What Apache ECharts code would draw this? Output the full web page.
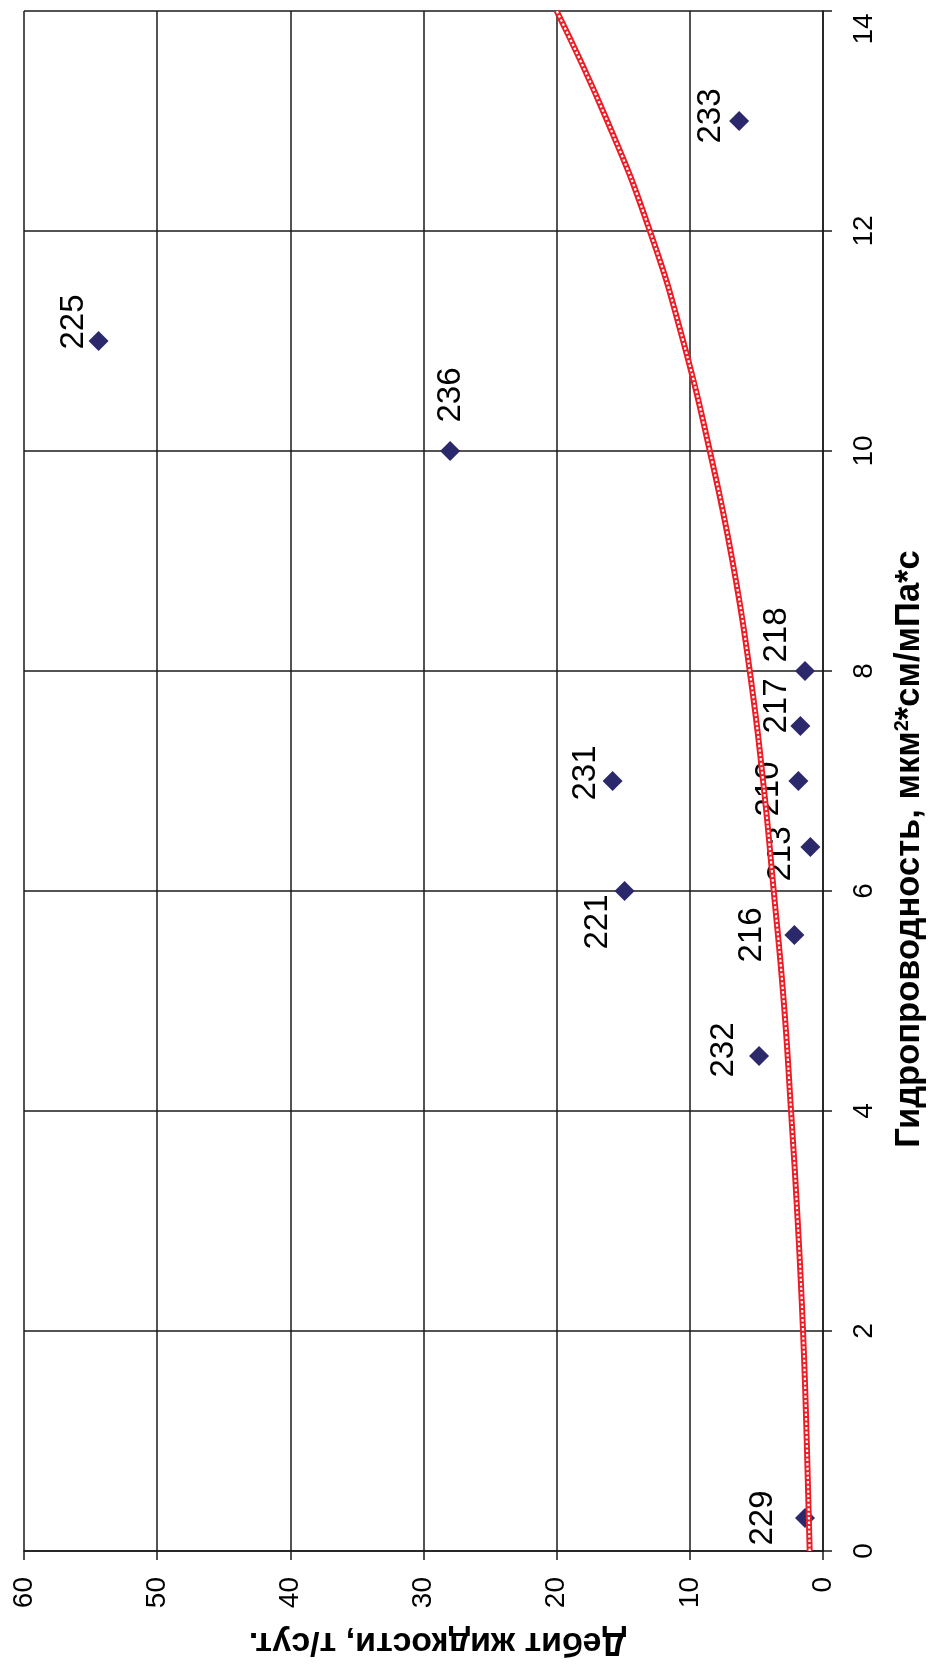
<!DOCTYPE html>
<html>
<head>
<meta charset="utf-8">
<script src="https://cdn.jsdelivr.net/npm/echarts@6/dist/echarts.min.js"></script>
<style>
  html, body { margin: 0; padding: 0; background: #ffffff; }
  #chart { width: 930px; height: 1664px; }
</style>
</head>
<body>
<div id="chart"></div>
<script>
// Wells: hydraulic conductivity vs. liquid flow rate
const wells  = ['229', '232', '216', '221', '213', '210', '231', '217', '218', '236', '225', '233'];
const hydro  = [0.3, 4.5, 5.6, 6.0, 6.4, 7.0, 7.0, 7.5, 8.0, 10.0, 11.0, 13.0];
const debit  = [1.35, 4.8, 2.15, 14.9, 0.95, 1.85, 15.8, 1.7, 1.35, 28.0, 54.4, 6.3];

// Trend curve read at whole units of hydraulic conductivity
const trendHydro = [0, 1, 2, 3, 4, 5, 6, 7, 8, 9, 10, 11, 12, 13, 14];
const trendDebit = [1.0, 1.22, 1.5, 1.9, 2.4, 2.95, 3.7, 4.5, 5.5, 6.8, 8.5, 10.5, 13.0, 16.2, 20.0];

// Axis ticks
const debitTicks = [0, 10, 20, 30, 40, 50, 60];
const hydroTicks = [0, 2, 4, 6, 8, 10, 12, 14];

const FONT = "'Liberation Sans', Arial, sans-serif";
const INK = '#1a1a1a';

// Label nudges in the label's own (rotated) frame: [along text, away from text base]
const labelNudge = {
  '232': [6, 7],
  '221': [-31, 16],
  '213': [-7, 13],
  '210': [-8, 13],
  '231': [8, 16],
  '217': [20, 19],
  '218': [36, 14],
  '236': [56, 43],
  '225': [19, 18],
  '233': [5, 14]
};

const chart = echarts.init(document.getElementById('chart'), null, { renderer: 'canvas' });

const pointData = wells.map((w, i) => {
  const item = { value: [debit[i], hydro[i]] };
  if (labelNudge[w]) item.label = { offset: labelNudge[w] };
  return item;
});

const option = {
  backgroundColor: '#ffffff',
  animation: false,
  grid: { left: 24, right: 107, top: 11, bottom: 113, containLabel: false, outerBoundsMode: 'none' },
  xAxis: {
    type: 'value',
    inverse: true,
    position: 'bottom',
    min: debitTicks[0],
    max: debitTicks[debitTicks.length - 1],
    interval: debitTicks[1] - debitTicks[0],
    axisLine: { show: true, onZero: false, lineStyle: { color: INK, width: 1.5 } },
    axisTick: { show: true, inside: false, length: 9, lineStyle: { color: INK, width: 1.5 } },
    splitLine: { show: true, lineStyle: { color: INK, width: 1.5 } },
    axisLabel: { rotate: 90, margin: 26, fontSize: 28, color: '#000', fontFamily: FONT },
    name: 'Дебит жидкости, т/сут.',
    nameLocation: 'middle',
    nameRotate: 180,
    nameGap: 74,
    nameTextStyle: { fontSize: 34, fontWeight: 'bold', color: '#000', fontFamily: FONT, padding: [0, 28, 0, 0] }
  },
  yAxis: {
    type: 'value',
    position: 'right',
    min: hydroTicks[0],
    max: hydroTicks[hydroTicks.length - 1],
    interval: hydroTicks[1] - hydroTicks[0],
    axisLine: { show: true, onZero: false, lineStyle: { color: INK, width: 1.5 } },
    axisTick: { show: true, inside: false, length: 9, lineStyle: { color: INK, width: 1.5 } },
    splitLine: { show: true, lineStyle: { color: INK, width: 1.5 } },
    axisLabel: {
      rotate: 90, margin: 27, color: '#000',
      formatter: v => (v === hydroTicks[hydroTicks.length - 1] ? '{top|' + v + '}' : '{n|' + v + '}'),
      rich: {
        n: { fontSize: 28, fontFamily: FONT, color: '#000' },
        top: { fontSize: 28, fontFamily: FONT, color: '#000', padding: [0, 36, 0, 0] }
      }
    },
    name: '{t|Гидропроводность, мкм}{s|2}{t|*см/мПа*с}',
    nameLocation: 'middle',
    nameRotate: 90,
    nameGap: 69,
    nameTextStyle: {
      padding: [0, 136, 0, 0],
      rich: {
        t: { fontSize: 34.5, fontWeight: 'bold', color: '#000', fontFamily: FONT },
        s: { fontSize: 20, fontWeight: 'bold', color: '#000', fontFamily: FONT, verticalAlign: 'top' }
      }
    }
  },
  series: [
    {
      name: 'wells',
      type: 'scatter',
      symbol: 'diamond',
      symbolSize: 20,
      itemStyle: { color: '#2b286c', opacity: 1 },
      z: 2,
      label: {
        show: true,
        formatter: p => wells[p.dataIndex],
        position: 'left',
        distance: 16,
        rotate: 90,
        align: 'center',
        verticalAlign: 'bottom',
        fontSize: 33,
        color: '#000',
        fontFamily: FONT
      },
      data: pointData
    },
    {
      name: 'trend',
      type: 'line',
      smooth: true,
      showSymbol: false,
      symbol: 'none',
      z: 3,
      lineStyle: { color: '#ee1c25', width: 6 },
      data: trendHydro.map((h, i) => [trendDebit[i], h])
    },
    {
      name: 'trend-dots',
      type: 'line',
      smooth: true,
      showSymbol: false,
      symbol: 'none',
      z: 4,
      lineStyle: { color: '#ffffff', width: 2.2, type: [2.5, 2] },
      data: trendHydro.map((h, i) => [trendDebit[i], h])
    }
  ]
};

chart.setOption(option);
</script>
</body>
</html>
